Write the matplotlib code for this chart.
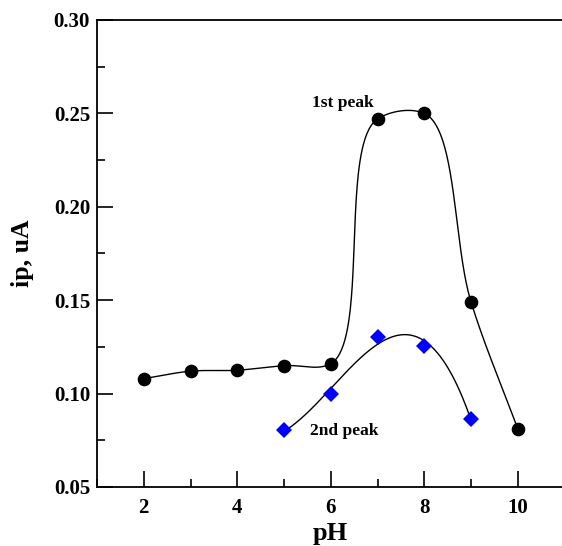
import numpy as np
from matplotlib import pyplot as plt
from matplotlib.ticker import MultipleLocator

plt.rcParams['font.family'] = 'Liberation Serif'
plt.rcParams['font.weight'] = 'bold'

# Peak current vs pH for the two reduction peaks
pH_1st = [2, 3, 4, 5, 6, 7, 8, 9, 10]
ip_1st = [0.108, 0.112, 0.1125, 0.115, 0.116, 0.247, 0.250, 0.149, 0.081]

pH_2nd = [5, 6, 7, 8, 9]
ip_2nd = [0.0805, 0.100, 0.1305, 0.1255, 0.0865]

xTicks = [2, 4, 6, 8, 10]
yTicks = [0.05, 0.10, 0.15, 0.20, 0.25, 0.30]


def catmullRom(points, alpha=0.5, steps=80):
    # Catmull-Rom spline through the given points (pixel space)
    pts = np.asarray(points, dtype=float)
    pts = np.vstack([2 * pts[0] - pts[1], pts, 2 * pts[-1] - pts[-2]])
    curve = []
    for i in range(1, len(pts) - 2):
        p0, p1, p2, p3 = pts[i - 1], pts[i], pts[i + 1], pts[i + 2]
        t0 = 0.0
        t1 = t0 + np.linalg.norm(p1 - p0) ** alpha
        t2 = t1 + np.linalg.norm(p2 - p1) ** alpha
        t3 = t2 + np.linalg.norm(p3 - p2) ** alpha
        t = np.linspace(t1, t2, steps)[:, None]
        a1 = (t1 - t) / (t1 - t0) * p0 + (t - t0) / (t1 - t0) * p1
        a2 = (t2 - t) / (t2 - t1) * p1 + (t - t1) / (t2 - t1) * p2
        a3 = (t3 - t) / (t3 - t2) * p2 + (t - t2) / (t3 - t2) * p3
        b1 = (t2 - t) / (t2 - t0) * a1 + (t - t0) / (t2 - t0) * a2
        b2 = (t3 - t) / (t3 - t1) * a2 + (t - t1) / (t3 - t1) * a3
        c = (t2 - t) / (t2 - t1) * b1 + (t - t1) / (t2 - t1) * b2
        curve.append(c)
    return np.vstack(curve)


figure = plt.figure(figsize=(5.62, 5.46), dpi=100)
axis = figure.add_axes([0.1726, 0.1081, 0.832, 0.8553])
axis.set_xlim(1, 11)
axis.set_ylim(0.05, 0.30)

# 1st peak: smooth spline through the points, built in display coordinates
pixelPts = axis.transData.transform(np.column_stack([pH_1st, ip_1st]))
smoothPix = catmullRom(pixelPts, alpha=0.65)
smooth1 = axis.transData.inverted().transform(smoothPix)
axis.plot(smooth1[:, 0], smooth1[:, 1], color='black', linewidth=1.0, zorder=2)
axis.plot(pH_1st, ip_1st, 'o', color='black', markersize=8.8, zorder=3)

# 2nd peak: cubic polynomial fit
coeffs = np.polyfit(pH_2nd, ip_2nd, 3)
xFit = np.linspace(min(pH_2nd), max(pH_2nd), 200)
axis.plot(xFit, np.polyval(coeffs, xFit), color='black', linewidth=1.0, zorder=2)
axis.plot(pH_2nd, ip_2nd, 'D', color='#0000ff', markersize=8, markeredgewidth=0, zorder=3)

axis.text(6.26, 0.2556, '1st peak', fontsize=12.5, ha='center', va='center')
axis.text(6.28, 0.0801, '2nd peak', fontsize=12.5, ha='center', va='center')

axis.set_xticks(xTicks)
axis.set_yticks(yTicks)
axis.set_yticklabels(['%.2f' % v for v in yTicks])
axis.xaxis.set_minor_locator(MultipleLocator(1))
axis.yaxis.set_minor_locator(MultipleLocator(0.025))
axis.tick_params(which='both', direction='in', width=1.2, labelsize=15)
axis.tick_params(which='major', length=11.5)
axis.tick_params(which='minor', length=6)
axis.tick_params(axis='x', pad=8)
axis.tick_params(axis='y', pad=5)
for spine in axis.spines.values():
    spine.set_linewidth(1.3)

axis.set_xlabel('pH', fontsize=19, fontweight='bold', labelpad=3)
axis.set_ylabel('ip, uA', fontsize=18.5, fontweight='bold', labelpad=14)

figure.savefig('out.png', dpi=100)
